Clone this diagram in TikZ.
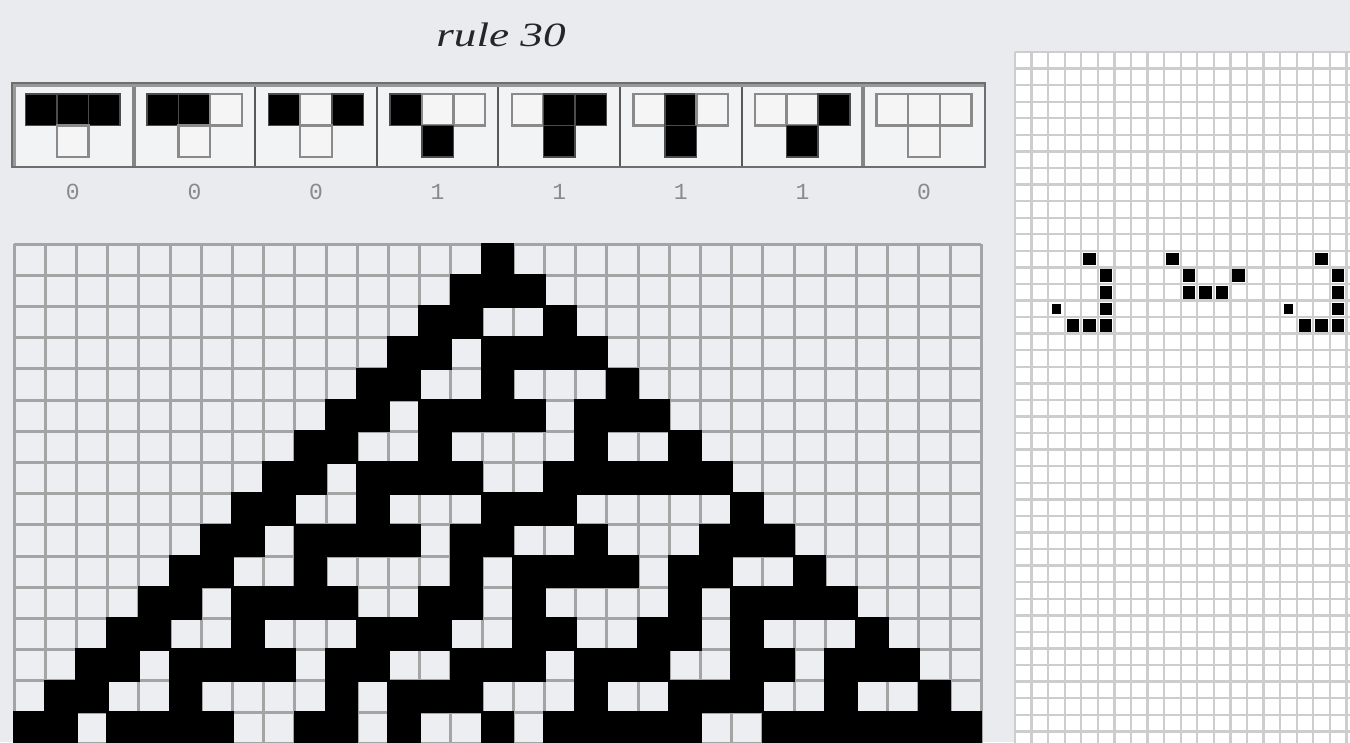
\documentclass[tikz,border=0pt]{standalone}
\usepackage{fontspec}
\setmainfont{Liberation Serif}
\newfontfamily\monofnt{Liberation Mono}
\definecolor{bgc}{HTML}{E9EBEE}
\definecolor{cellc}{HTML}{ECEEF1}
\definecolor{mgridc}{HTML}{A4A4A4}
\definecolor{rgridc}{HTML}{CDCDCD}
\definecolor{panelc}{HTML}{6E6E6E}
\definecolor{lblc}{HTML}{8A8A8A}
\newcommand\cagetcell[2]{\ifcsname ca-#1-#2\endcsname\csname ca-#1-#2\endcsname\else0\fi}
\begin{document}
\begin{tikzpicture}[x=1pt,y=-1pt,
  mline/.style={draw=mgridc,line width=3},
  rline/.style={draw=rgridc,line width=2.4},
  blkcell/.style={fill=black,draw=black!70,line width=1.5},
  whtcell/.style={fill=white!96!black,draw=lblc,line width=2.5},
  thickdiv/.style={draw=black!48,line width=4},
  thindiv/.style={draw=black!65,line width=2},
  lbl/.style={font=\monofnt\fontsize{23}{26}\selectfont,text=lblc,inner sep=0pt},
  titlestyle/.style={font=\fontsize{34}{40}\selectfont\itshape,text=black!85,inner sep=0pt}]
% ---- compute rule 30 ----
\expandafter\gdef\csname ca-0-15\endcsname{1}%
\foreach \ri in {1,...,15}{%
  \foreach \ci in {0,...,30}{%
    \edef\caL{\cagetcell{\the\numexpr\ri-1\relax}{\the\numexpr\ci-1\relax}}%
    \edef\caM{\cagetcell{\the\numexpr\ri-1\relax}{\ci}}%
    \edef\caR{\cagetcell{\the\numexpr\ri-1\relax}{\the\numexpr\ci+1\relax}}%
    \ifnum\numexpr\caM+\caR\relax>0 \def\caO{1}\else\def\caO{0}\fi
    \ifnum\caL=\caO\relax \def\caN{0}\else\def\caN{1}\fi
    \expandafter\xdef\csname ca-\ri-\ci\endcsname{\caN}%
  }%
}%
\useasboundingbox (0,0) rectangle (1350,742);
\fill[bgc] (0,0) rectangle (1350,742);
\begin{scope}
\clip (0,0) rectangle (1350,742);
% ---- title ----
\node[titlestyle,anchor=base] (title) at (501,46) {\scalebox{1.33}[1]{rule 30}};
% ---- rule panel ----
\fill[bgc!60!white] (12,83) rectangle (985,167);
\foreach \k/\na/\nb/\nc/\no/\lab in {0/1/1/1/0/0,1/1/1/0/0/0,2/1/0/1/0/0,3/1/0/0/1/1,4/0/1/1/1/1,5/0/1/0/1/1,6/0/0/1/1/1,7/0/0/0/0/0}{
  \pgfmathsetmacro\cx{12+121.6*(\k+0.5)}
  \foreach \j/\v in {0/\na,1/\nb,2/\nc}{
    \ifnum\v=1 \def\cst{blkcell}\else\def\cst{whtcell}\fi
    \draw[\cst] ({\cx-47.4+31.6*\j},94) rectangle ++(31.6,31.6);
  }
  \ifnum\no=1 \def\cst{blkcell}\else\def\cst{whtcell}\fi
  \draw[\cst] ({\cx-15.8},125.6) rectangle ++(31.6,31.6);
  \node[lbl] (lab\k) at (\cx,192) {\lab};
}
\foreach \k in {2,...,6}{\draw[thindiv] ({12+121.6*\k},83) -- ({12+121.6*\k},167);}
\foreach \k in {1,7}{\draw[thickdiv] ({12+121.6*\k},83) -- ({12+121.6*\k},167);}
\draw[black!40,line width=2.5] (14.5,167) -- (14.5,85.5) -- (985,85.5);
\draw[panelc,line width=2] (12,83) rectangle (985,167);
% ---- main grid ----
\fill[cellc] (14,244) rectangle (981.2,743.2);
\foreach \k in {0,...,31}{\draw[mline] ({14+31.2*\k},244) -- ({14+31.2*\k},743.2);}
\foreach \k in {0,...,16}{\draw[mline] (14,{244+31.2*\k}) -- (981.2,{244+31.2*\k});}
\foreach \ri in {0,...,15}{%
  \foreach \ci in {0,...,30}{%
    \if1\cagetcell{\ri}{\ci}%
      \fill[black] ({14+31.2*\ci-1.2},{244+31.2*\ri-1.2}) rectangle ++(33.6,33.6);
    \fi
  }%
}%
% ---- right grid ----
\fill[white] (1015,52) rectangle (1360,760);
\foreach \k in {0,...,21}{\draw[rline] ({1015+16.57*\k},52) -- ({1015+16.57*\k},760);}
\foreach \k in {0,...,42}{\draw[rline] (1015,{52+16.57*\k}) -- (1360,{52+16.57*\k});}
\foreach \r/\c/\s in {12/4/12.6,13/5/12.6,14/5/12.6,15/5/12.6,15/2/9.6,16/3/12.6,16/4/12.6,16/5/12.6,
  12/9/12.6,13/10/12.6,13/13/12.6,14/10/12.6,14/11/12.6,14/12/12.6,
  12/18/12.6,13/19/12.6,14/19/12.6,15/19/12.6,15/16/9.6,16/17/12.6,16/18/12.6,16/19/12.6}{%
  \fill[black] ({1015+16.57*(\c+0.5)-\s/2},{52+16.57*(\r+0.5)-\s/2}) rectangle ++(\s,\s);
}
\end{scope}
\end{tikzpicture}
\end{document}
